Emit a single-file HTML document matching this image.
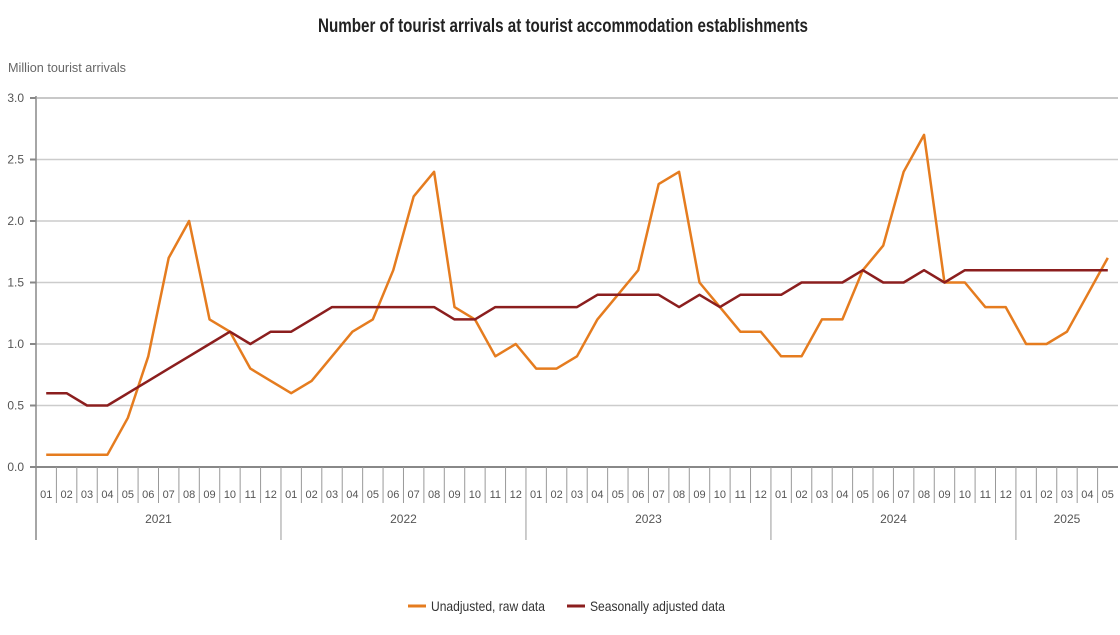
<!DOCTYPE html>
<html><head><meta charset="utf-8"><style>
body{margin:0;background:#fff;width:1120px;height:630px;overflow:hidden;font-family:"Liberation Sans",sans-serif}
</style></head><body>
<svg id="c" width="1120" height="630">
<text x="563" y="32" text-anchor="middle" font-size="19" font-weight="bold" fill="#222" textLength="490" lengthAdjust="spacingAndGlyphs">Number of tourist arrivals at tourist accommodation establishments</text>
<text x="8" y="72" font-size="13" fill="#666" textLength="118" lengthAdjust="spacingAndGlyphs">Million tourist arrivals</text>
<g id="grid"></g><g id="xax"></g><g id="lines"></g>
<g>
<line x1="408" y1="606" x2="426" y2="606" stroke="#e57c1f" stroke-width="3"/>
<text x="431" y="611" font-size="14" fill="#333" textLength="114" lengthAdjust="spacingAndGlyphs">Unadjusted, raw data</text>
<line x1="567" y1="606" x2="585" y2="606" stroke="#8b1e1e" stroke-width="3"/>
<text x="590" y="611" font-size="14" fill="#333" textLength="135" lengthAdjust="spacingAndGlyphs">Seasonally adjusted data</text>
</g>
</svg>
<script>
const years=["2021","2022","2023","2024","2025"];
const monthsPerYear=[12,12,12,12,5];
const yTicks=[0,0.5,1.0,1.5,2.0,2.5,3.0];
const rawData=[.1,.1,.1,.1,.4,.9,1.7,2.0,1.2,1.1,.8,.7,
.6,.7,.9,1.1,1.2,1.6,2.2,2.4,1.3,1.2,.9,1.0,
.8,.8,.9,1.2,1.4,1.6,2.3,2.4,1.5,1.3,1.1,1.1,
.9,.9,1.2,1.2,1.6,1.8,2.4,2.7,1.5,1.5,1.3,1.3,
1.0,1.0,1.1,1.4,1.7];
const adjData=[.6,.6,.5,.5,.6,.7,.8,.9,1.0,1.1,1.0,1.1,
1.1,1.2,1.3,1.3,1.3,1.3,1.3,1.3,1.2,1.2,1.3,1.3,
1.3,1.3,1.3,1.4,1.4,1.4,1.4,1.3,1.4,1.3,1.4,1.4,
1.4,1.5,1.5,1.5,1.6,1.5,1.5,1.6,1.5,1.6,1.6,1.6,
1.6,1.6,1.6,1.6,1.6];
const NS="http://www.w3.org/2000/svg";
const L=36,R=1118,T=98,B=467,yMax=3;
const n=rawData.length,bw=(R-L)/n;
const xS=i=>L+bw*(i+0.5);
const yS=v=>B-(v/yMax)*(B-T);
function mk(tag,a,p){const e=document.createElementNS(NS,tag);for(const k in a)e.setAttribute(k,a[k]);p.appendChild(e);return e;}
const g=document.getElementById('grid'),xa=document.getElementById('xax'),ln=document.getElementById('lines');
yTicks.forEach(v=>{
 const l=mk('line',{x1:L,x2:R,y1:yS(v),y2:yS(v),stroke:v===0?'#888':'#ccc','stroke-width':v===0?2:1.5},g);
 
 
 mk('line',{x1:L-6,x2:L,y1:yS(v),y2:yS(v),stroke:'#888','stroke-width':2},g);
 const t=mk('text',{x:L-12,y:yS(v)+4,'text-anchor':'end','font-size':12,fill:'#555'},g);
 t.textContent=v.toFixed(1);
 
 
});
mk('line',{x1:L,x2:L,y1:T-2,y2:540,stroke:'#888','stroke-width':1.5},g);
mk('line',{x1:L,x2:R,y1:T,y2:T,stroke:'#aaa','stroke-width':1},g);
let idx=0;
years.forEach((yr,yi)=>{
 const start=idx;
 for(let m=0;m<monthsPerYear[yi];m++){
  const t=mk('text',{x:xS(idx),y:498,'text-anchor':'middle','font-size':11,fill:'#555'},xa);
  t.textContent=String(m+1).padStart(2,'0');
  
  
  if(m>0) mk('line',{x1:L+bw*idx,x2:L+bw*idx,y1:B,y2:503,stroke:'#999','stroke-width':1},xa);
  idx++;
 }
 if(yi>0) mk('line',{x1:L+bw*start,x2:L+bw*start,y1:B,y2:540,stroke:'#999','stroke-width':1},xa);
 const yt=mk('text',{x:L+bw*(start+idx)/2,y:523,'text-anchor':'middle','font-size':12,fill:'#555'},xa);
 yt.textContent=yr;
 
 
});
function line(data,color,name){
 const p=mk('polyline',{points:data.map((v,i)=>xS(i)+','+yS(v)).join(' '),fill:'none',stroke:color,'stroke-width':2.5,'stroke-linejoin':'round'},ln);
 
 
}
line(rawData,'#e57c1f','unadjusted-line');
line(adjData,'#8b1e1e','seasonally-adjusted-line');
</script>
</body></html>
